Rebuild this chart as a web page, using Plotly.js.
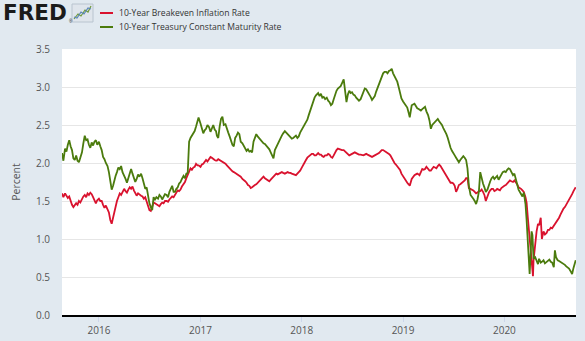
<!DOCTYPE html>
<html>
<head>
<meta charset="utf-8">
<script src="https://cdn.plot.ly/plotly-3.0.1.min.js"></script>
<style>
  html, body { margin: 0; padding: 0; background: #e1e9f0; }
  #chart { width: 585px; height: 341px; }
</style>
</head>
<body>
<div id="chart"></div>
<script>
// ---- Data ----
const seriesNames = ["10-Year Breakeven Inflation Rate", "10-Year Treasury Constant Maturity Rate"];
const seriesColors = ["#d9122e", "#4b7b0d"];
const yearTicks = ["2016", "2017", "2018", "2019", "2020"];

const dates = [
"2015-08-21","2015-08-26",
"2015-09-01","2015-09-06","2015-09-11","2015-09-16","2015-09-21","2015-09-26",
"2015-10-01","2015-10-06","2015-10-11","2015-10-16","2015-10-21","2015-10-26",
"2015-11-01","2015-11-06","2015-11-11","2015-11-16","2015-11-21","2015-11-26",
"2015-12-01","2015-12-06","2015-12-11","2015-12-16","2015-12-21","2015-12-26",
"2016-01-01","2016-01-06","2016-01-11","2016-01-16","2016-01-21","2016-01-26",
"2016-02-01","2016-02-06","2016-02-11","2016-02-16","2016-02-21","2016-02-26",
"2016-03-01","2016-03-06","2016-03-11","2016-03-16","2016-03-21","2016-03-26",
"2016-04-01","2016-04-06","2016-04-11","2016-04-16","2016-04-21","2016-04-26",
"2016-05-01","2016-05-06","2016-05-11","2016-05-16","2016-05-21","2016-05-26",
"2016-06-01","2016-06-06","2016-06-11","2016-06-16","2016-06-21","2016-06-26",
"2016-07-01","2016-07-06","2016-07-11","2016-07-16","2016-07-21","2016-07-26",
"2016-08-01","2016-08-06","2016-08-11","2016-08-16","2016-08-21","2016-08-26",
"2016-09-01","2016-09-06","2016-09-11","2016-09-16","2016-09-21","2016-09-26",
"2016-10-01","2016-10-06","2016-10-11","2016-10-16","2016-10-21","2016-10-26",
"2016-11-01","2016-11-06","2016-11-11","2016-11-16","2016-11-18","2016-11-21","2016-11-26",
"2016-12-01","2016-12-06","2016-12-11","2016-12-16","2016-12-21","2016-12-25",
"2017-01-01","2017-01-06","2017-01-11","2017-01-16","2017-01-21","2017-01-26",
"2017-02-01","2017-02-06","2017-02-11","2017-02-16","2017-02-21","2017-02-26",
"2017-03-01","2017-03-06","2017-03-11","2017-03-16","2017-03-21","2017-03-26",
"2017-04-01","2017-04-06","2017-04-11","2017-04-16","2017-04-21","2017-04-26",
"2017-05-01","2017-05-06","2017-05-11","2017-05-16","2017-05-21","2017-05-26",
"2017-06-01","2017-06-06","2017-06-11","2017-06-16","2017-06-21","2017-06-26",
"2017-07-01","2017-07-06","2017-07-11","2017-07-16","2017-07-21","2017-07-26",
"2017-08-01","2017-08-06","2017-08-11","2017-08-16","2017-08-21","2017-08-26",
"2017-09-01","2017-09-06","2017-09-11","2017-09-16","2017-09-21","2017-09-26",
"2017-10-01","2017-10-06","2017-10-11","2017-10-16","2017-10-21","2017-10-26",
"2017-11-01","2017-11-06","2017-11-11","2017-11-16","2017-11-21","2017-11-26",
"2017-12-01","2017-12-06","2017-12-11","2017-12-16","2017-12-21","2017-12-26",
"2018-01-01","2018-01-06","2018-01-11","2018-01-16","2018-01-21","2018-01-26",
"2018-02-01","2018-02-06","2018-02-11","2018-02-16","2018-02-21","2018-02-26",
"2018-03-01","2018-03-06","2018-03-11","2018-03-16","2018-03-21","2018-03-26",
"2018-04-01","2018-04-06","2018-04-11","2018-04-16","2018-04-21","2018-04-26",
"2018-05-01","2018-05-06","2018-05-11","2018-05-16","2018-05-21","2018-05-26",
"2018-06-01","2018-06-06","2018-06-11","2018-06-16","2018-06-21","2018-06-26",
"2018-07-01","2018-07-06","2018-07-11","2018-07-16","2018-07-21","2018-07-26",
"2018-08-01","2018-08-06","2018-08-11","2018-08-16","2018-08-21","2018-08-26",
"2018-09-01","2018-09-06","2018-09-11","2018-09-16","2018-09-21","2018-09-26",
"2018-10-01","2018-10-06","2018-10-11","2018-10-16","2018-10-21","2018-10-26",
"2018-11-01","2018-11-06","2018-11-11","2018-11-16","2018-11-21","2018-11-26",
"2018-12-01","2018-12-06","2018-12-11","2018-12-16","2018-12-21","2018-12-26",
"2019-01-01","2019-01-06","2019-01-11","2019-01-16","2019-01-21","2019-01-25",
"2019-02-01","2019-02-06","2019-02-11","2019-02-16","2019-02-21","2019-02-26",
"2019-03-01","2019-03-06","2019-03-11","2019-03-16","2019-03-21","2019-03-26",
"2019-04-01","2019-04-06","2019-04-11","2019-04-16","2019-04-21","2019-04-26",
"2019-05-01","2019-05-06","2019-05-11","2019-05-16","2019-05-21","2019-05-26",
"2019-06-01","2019-06-06","2019-06-11","2019-06-16","2019-06-21","2019-06-26",
"2019-07-01","2019-07-06","2019-07-11","2019-07-16","2019-07-21","2019-07-26",
"2019-08-01","2019-08-06","2019-08-11","2019-08-16","2019-08-21","2019-08-26",
"2019-09-01","2019-09-06","2019-09-11","2019-09-16","2019-09-21","2019-09-26",
"2019-10-01","2019-10-06","2019-10-11","2019-10-16","2019-10-21","2019-10-26",
"2019-11-01","2019-11-06","2019-11-11","2019-11-16","2019-11-21","2019-11-26",
"2019-12-01","2019-12-06","2019-12-11","2019-12-16","2019-12-21","2019-12-26",
"2020-01-01","2020-01-06","2020-01-11","2020-01-16","2020-01-21","2020-01-26",
"2020-02-01","2020-02-06","2020-02-11","2020-02-16","2020-02-21","2020-02-26",
"2020-03-01","2020-03-06","2020-03-11","2020-03-17","2020-03-21","2020-03-25","2020-03-29",
"2020-04-01","2020-04-05","2020-04-08","2020-04-11","2020-04-13","2020-04-15","2020-04-21","2020-04-26",
"2020-05-01","2020-05-05","2020-05-11","2020-05-15","2020-05-21","2020-05-26",
"2020-06-01","2020-06-06","2020-06-11","2020-06-16","2020-06-21","2020-06-27",
"2020-07-01","2020-07-05","2020-07-11","2020-07-16","2020-07-21","2020-07-26",
"2020-08-01","2020-08-06","2020-08-11","2020-08-16","2020-08-21","2020-08-26",
"2020-09-01","2020-09-06","2020-09-10","2020-09-14"
];

const breakeven = [
1.60,1.55,
1.60,1.57,1.54,1.56,1.50,1.45,
1.42,1.44,1.47,1.45,1.50,1.48,
1.53,1.56,1.58,1.55,1.60,1.58,
1.61,1.59,1.55,1.50,1.47,1.51,
1.53,1.50,1.50,1.45,1.41,1.44,
1.40,1.35,1.25,1.20,1.28,1.36,
1.44,1.50,1.55,1.60,1.58,1.62,
1.66,1.63,1.61,1.65,1.68,1.66,
1.69,1.64,1.61,1.57,1.60,1.58,
1.57,1.56,1.53,1.55,1.49,1.44,
1.38,1.37,1.43,1.48,1.47,1.46,
1.45,1.43,1.46,1.48,1.47,1.50,
1.50,1.49,1.52,1.54,1.56,1.55,
1.58,1.62,1.64,1.63,1.65,1.69,
1.72,1.75,1.80,1.84,1.86,1.90,1.93,
1.91,1.94,1.95,1.99,1.97,1.97,
1.95,1.98,1.99,2.01,2.04,2.02,
2.06,2.08,2.07,2.05,2.04,2.03,
2.03,2.05,2.04,2.03,2.02,2.00,
1.99,1.97,1.95,1.93,1.90,1.89,
1.88,1.87,1.86,1.85,1.84,1.82,
1.79,1.78,1.76,1.74,1.71,1.70,
1.67,1.68,1.70,1.71,1.72,1.74,
1.76,1.79,1.81,1.82,1.80,1.79,
1.77,1.76,1.78,1.80,1.82,1.84,
1.86,1.85,1.86,1.87,1.88,1.87,
1.86,1.87,1.88,1.87,1.87,1.86,
1.85,1.84,1.84,1.86,1.88,1.90,
1.94,1.98,2.01,2.04,2.07,2.09,
2.11,2.12,2.12,2.10,2.10,2.12,
2.13,2.11,2.11,2.09,2.08,2.10,
2.10,2.12,2.11,2.08,2.07,2.10,
2.14,2.17,2.19,2.18,2.18,2.17,
2.17,2.15,2.13,2.11,2.10,2.11,
2.12,2.13,2.14,2.13,2.12,2.11,
2.11,2.10,2.10,2.11,2.12,2.11,
2.10,2.09,2.08,2.09,2.10,2.10,
2.11,2.13,2.15,2.17,2.17,2.16,
2.15,2.14,2.12,2.10,2.06,2.03,
2.00,1.98,1.96,1.94,1.91,1.86,
1.82,1.79,1.76,1.74,1.72,1.70,
1.79,1.82,1.84,1.85,1.86,1.85,
1.84,1.88,1.92,1.91,1.92,1.95,
1.93,1.90,1.90,1.93,1.95,1.94,
1.93,1.96,1.98,1.96,1.93,1.90,
1.86,1.83,1.79,1.76,1.74,1.74,
1.73,1.70,1.62,1.66,1.71,1.72,
1.74,1.75,1.77,1.80,1.80,1.67,
1.66,1.65,1.64,1.62,1.60,1.61,
1.63,1.63,1.65,1.62,1.58,1.50,
1.57,1.61,1.64,1.66,1.66,1.63,
1.64,1.66,1.65,1.64,1.67,1.69,
1.70,1.71,1.73,1.75,1.77,1.76,
1.75,1.77,1.75,1.72,1.68,1.67,
1.66,1.64,1.62,1.55,1.48,1.30,1.14,
0.98,0.85,0.72,0.58,0.51,0.72,0.98,1.10,
1.20,1.18,1.28,1.00,1.10,1.06,
1.08,1.12,1.12,1.15,1.14,1.17,
1.19,1.21,1.25,1.28,1.32,1.36,
1.40,1.42,1.45,1.48,1.51,1.55,
1.59,1.63,1.65,1.68
];

const treasury = [
2.13,2.03,
2.19,2.15,2.24,2.30,2.22,2.17,
2.06,2.04,2.10,2.03,2.01,2.06,
2.14,2.26,2.36,2.30,2.31,2.24,
2.20,2.27,2.23,2.28,2.30,2.24,
2.28,2.22,2.17,2.08,2.05,2.00,
1.96,1.88,1.74,1.65,1.70,1.78,
1.83,1.88,1.94,1.92,1.96,1.88,
1.84,1.79,1.74,1.80,1.87,1.92,
1.86,1.80,1.75,1.79,1.85,1.82,
1.86,1.80,1.72,1.66,1.68,1.55,
1.47,1.42,1.38,1.55,1.52,1.55,
1.53,1.58,1.56,1.52,1.55,1.59,
1.58,1.55,1.62,1.66,1.70,1.62,
1.62,1.66,1.68,1.73,1.75,1.79,
1.83,1.80,1.86,1.87,2.16,2.28,2.33,
2.36,2.38,2.42,2.48,2.56,2.60,
2.52,2.45,2.39,2.43,2.45,2.50,
2.47,2.41,2.45,2.50,2.44,2.42,
2.36,2.33,2.48,2.58,2.61,2.50,
2.51,2.44,2.40,2.35,2.30,2.24,
2.22,2.33,2.36,2.40,2.38,2.28,
2.26,2.22,2.20,2.16,2.18,2.15,
2.16,2.14,2.28,2.34,2.38,2.35,
2.32,2.30,2.28,2.26,2.25,2.23,
2.20,2.18,2.14,2.10,2.06,2.17,
2.21,2.25,2.30,2.33,2.36,2.39,
2.42,2.40,2.38,2.36,2.34,2.32,
2.33,2.35,2.36,2.33,2.35,2.40,
2.44,2.47,2.49,2.53,2.57,2.63,
2.70,2.76,2.80,2.86,2.89,2.92,
2.92,2.88,2.91,2.86,2.87,2.84,
2.86,2.82,2.80,2.76,2.78,2.84,
2.90,2.95,2.98,3.00,3.01,3.05,
3.10,2.95,2.80,2.90,2.95,2.92,
2.93,2.90,2.89,2.86,2.84,2.82,
2.84,2.88,2.93,2.98,2.97,2.94,
2.91,2.87,2.83,2.85,2.88,2.94,
2.99,3.04,3.07,3.13,3.18,3.20,
3.20,3.18,3.21,3.22,3.24,3.18,
3.14,3.10,3.07,3.00,2.91,2.85,
2.81,2.78,2.76,2.73,2.66,2.60,
2.76,2.77,2.78,2.75,2.72,2.71,
2.70,2.69,2.71,2.73,2.74,2.68,
2.63,2.56,2.45,2.50,2.52,2.55,
2.57,2.58,2.55,2.53,2.50,2.46,
2.42,2.38,2.33,2.26,2.20,2.16,
2.12,2.10,2.07,2.04,2.01,2.04,
2.07,2.09,2.07,2.04,1.93,1.70,
1.58,1.56,1.53,1.50,1.46,1.52,
1.62,1.88,1.78,1.73,1.68,1.62,
1.65,1.72,1.76,1.80,1.82,1.79,
1.81,1.83,1.78,1.82,1.86,1.88,
1.89,1.88,1.91,1.93,1.92,1.88,
1.84,1.86,1.77,1.72,1.65,1.62,
1.58,1.56,1.61,1.46,1.25,0.95,0.70,
0.54,0.84,1.10,1.05,0.90,0.74,0.76,0.70,
0.67,0.74,0.69,0.70,0.72,0.68,
0.70,0.72,0.73,0.70,0.69,0.63,
0.85,0.76,0.72,0.71,0.70,0.69,
0.68,0.66,0.64,0.63,0.61,0.58,
0.54,0.62,0.66,0.72
];

// ---- Chart ----
const W = 585, H = 341;
const M = {l: 62, r: 9, t: 49, b: 26};
const pw = W - M.l - M.r, ph = H - M.t - M.b;
const px = x => (x - M.l) / pw;      // pixel -> paper x
const py = y => (H - M.b - y) / ph;  // pixel -> paper y

const traces = [
  {x: dates, y: breakeven, type: "scatter", mode: "lines", name: seriesNames[0],
   line: {color: seriesColors[0], width: 1.8}, hoverinfo: "skip"},
  {x: dates, y: treasury, type: "scatter", mode: "lines", name: seriesNames[1],
   line: {color: seriesColors[1], width: 1.8}, hoverinfo: "skip"}
];

const font = "'Open Sans', 'DejaVu Sans', sans-serif";

const layout = {
  width: W, height: H,
  margin: {l: M.l, r: M.r, t: M.t, b: M.b, pad: 0},
  paper_bgcolor: "#e1e9f0",
  plot_bgcolor: "#ffffff",
  showlegend: false,
  font: {family: font, size: 10, color: "#555"},
  xaxis: {
    type: "date",
    range: ["2015-08-21", "2020-09-15"],
    tickvals: yearTicks.map(y => y + "-01-01"),
    ticktext: yearTicks,
    ticks: "outside", ticklen: 5, tickwidth: 1, tickcolor: "#ccd6eb",
    showgrid: false, zeroline: false,
    showline: true, linecolor: "#000000", linewidth: 2,
    tickfont: {family: font, size: 10, color: "#555"}
  },
  yaxis: {
    range: [0, 3.5], dtick: 0.5, tick0: 0, tickformat: ".1f",
    showgrid: true, gridcolor: "#e6e6e6", gridwidth: 1,
    zeroline: false, showline: false, ticks: "",
    ticklabelstandoff: 11,
    tickfont: {family: font, size: 10, color: "#555"},
    title: {text: "Percent", font: {family: font, size: 10.5, color: "#555"}, standoff: 13}
  },
  shapes: [
    // legend dashes
    {type: "line", xref: "paper", yref: "paper", x0: px(100), x1: px(113), y0: py(13), y1: py(13),
     line: {color: seriesColors[0], width: 2}},
    {type: "line", xref: "paper", yref: "paper", x0: px(100), x1: px(113), y0: py(27), y1: py(27),
     line: {color: seriesColors[1], width: 2}},
    // FRED logo icon
    {type: "rect", xref: "paper", yref: "paper", x0: px(72), x1: px(93), y0: py(22), y1: py(4),
     fillcolor: "#dfe5ec", line: {color: "#b9c4cf", width: 1}},
    {type: "path", xref: "paper", yref: "paper",
     path: `M ${px(74)},${py(19)} L ${px(78)},${py(14)} L ${px(81)},${py(16)} L ${px(85)},${py(10)} L ${px(88)},${py(12)} L ${px(91)},${py(6)}`,
     line: {color: "#6f9a3a", width: 1.2}},
    {type: "path", xref: "paper", yref: "paper",
     path: `M ${px(74)},${py(17)} L ${px(77)},${py(18)} L ${px(81)},${py(12)} L ${px(84)},${py(14)} L ${px(88)},${py(8)} L ${px(91)},${py(9)}`,
     line: {color: "#5b86b8", width: 1.2}}
  ],
  annotations: [
    {text: "<b>FRED</b>", xref: "paper", yref: "paper", x: px(1), y: py(13),
     xanchor: "left", yanchor: "middle", showarrow: false,
     font: {family: "'DejaVu Sans', sans-serif", size: 21.5, color: "#1b1b1b"}},
    {text: "®", xref: "paper", yref: "paper", x: px(67), y: py(21),
     xanchor: "left", yanchor: "middle", showarrow: false,
     font: {family: "'Liberation Sans', Arial, sans-serif", size: 4.5, color: "#1b1b1b"}},
    {text: seriesNames[0], xref: "paper", yref: "paper", x: px(117), y: py(13),
     xanchor: "left", yanchor: "middle", showarrow: false,
     font: {family: font, size: 8.6, color: "#333"}},
    {text: seriesNames[1], xref: "paper", yref: "paper", x: px(117), y: py(27),
     xanchor: "left", yanchor: "middle", showarrow: false,
     font: {family: font, size: 8.6, color: "#333"}}
  ]
};

Plotly.newPlot("chart", traces, layout, {staticPlot: true, displayModeBar: false});
</script>
</body>
</html>
